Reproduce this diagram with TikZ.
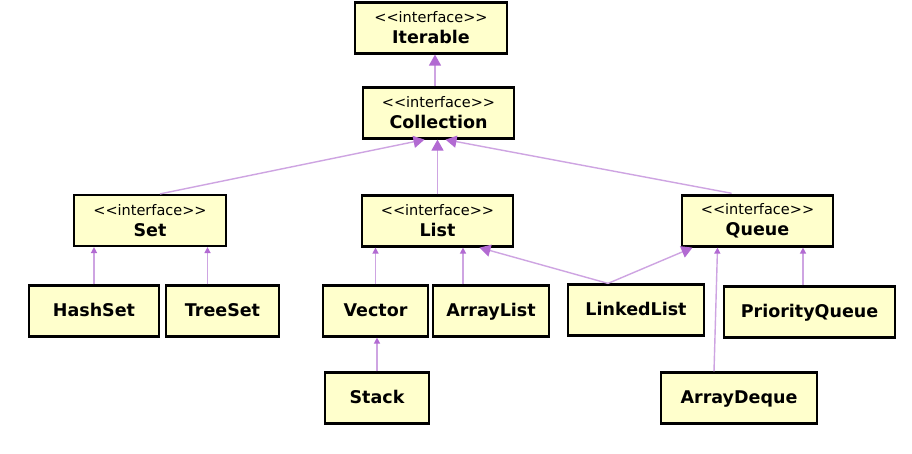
\documentclass[tikz,border=0pt]{standalone}
\usepackage{fontspec}
\setmainfont{DejaVu Sans}
\usetikzlibrary{arrows.meta}

\definecolor{boxfill}{RGB}{255,255,204}
\definecolor{inhline}{RGB}{206,164,226}
\definecolor{inhhead}{RGB}{178,106,210}

\tikzset{
  umlbox/.style={draw=black, line width=2.2pt, fill=boxfill, inner sep=0pt,
    minimum height=51pt, font=\bfseries\fontsize{17.5}{20}\selectfont},
  ifacebox/.style={umlbox, align=center},
  classbox/.style={umlbox, text height=14pt, text depth=3pt},
  inh/.style={draw=inhline, line width=1.4pt,
    -{Triangle[length=6pt,width=6pt,color=inhhead,fill=inhhead]}},
  inhbig/.style={draw=inhline, line width=1.4pt,
    -{Triangle[length=11pt,width=12pt,color=inhhead,fill=inhhead]}},
}
\newcommand{\stereo}{{\mdseries\fontsize{14.5}{15}\selectfont <{}<interface>{}>}\\[1pt]}

\begin{document}
\begin{tikzpicture}[x=1pt,y=-1pt]
    \useasboundingbox[fill=white] (0,0) rectangle (912,454);
    % Interfaces
    \node[ifacebox, minimum width=152pt] (iter) at (431,28) {\stereo Iterable};
    \node[ifacebox, minimum width=151pt] (coll) at (438.5,113) {\stereo Collection};
    \node[ifacebox, minimum width=152pt] (set) at (150,220.5) {\stereo Set};
    \node[ifacebox, minimum width=151pt] (list) at (437.5,221) {\stereo List};
    \node[ifacebox, minimum width=151pt] (queue) at (757.5,221) {\stereo Queue};

    % Classes
    \node[classbox, minimum width=130pt] (hash) at (94,311) {HashSet};
    \node[classbox, minimum width=113pt] (tree) at (222.5,311) {TreeSet};
    \node[classbox, minimum width=105pt] (vec) at (375.5,311) {Vector};
    \node[classbox, minimum width=116pt] (alist) at (491,311) {ArrayList};
    \node[classbox, minimum width=136pt] (llist) at (636,310) {LinkedList};
    \node[classbox, minimum width=171pt] (pq) at (809.5,312) {PriorityQueue};
    \node[classbox, minimum width=104pt] (stack) at (377,398) {Stack};
    \node[classbox, minimum width=156pt] (adeque) at (739,398) {ArrayDeque};

    % Inheritance
    \draw[inhbig] ([xshift=-3.5pt]coll.north) -- ([xshift=-3.5pt]coll.north |- iter.south);
    \draw[inhbig] ([xshift=10pt]set.north) -- ([xshift=-14pt]coll.south);
    \draw[inhbig] (list.north) -- (list.north |- coll.south);
    \draw[inhbig, shorten <=6pt] ([xshift=-20pt]queue.north) -- ([xshift=7pt]coll.south);

    \draw[inh] (hash.north) -- (hash.north |- set.south);
    \draw[inh] ([xshift=-15pt]tree.north) -- ([xshift=-15pt]tree.north |- set.south);
    \draw[inh] (vec.north) -- (vec.north |- list.south);
    \draw[inh] ([xshift=-28pt]alist.north) -- ([xshift=-28pt]alist.north |- list.south);
    \draw[inhbig] ([xshift=-28pt]llist.north) -- ([xshift=42pt]list.south);
    \draw[inhbig] ([xshift=-28pt]llist.north) -- ([xshift=-65pt]queue.south);
    \draw[inh] ([xshift=-6.5pt]pq.north) -- ([xshift=-6.5pt]pq.north |- queue.south);
    \draw[inh] (stack.north) -- (stack.north |- vec.south);
    \draw[inh] ([xshift=-25pt]adeque.north) -- ([xshift=-40pt]queue.south);
\end{tikzpicture}
\end{document}
